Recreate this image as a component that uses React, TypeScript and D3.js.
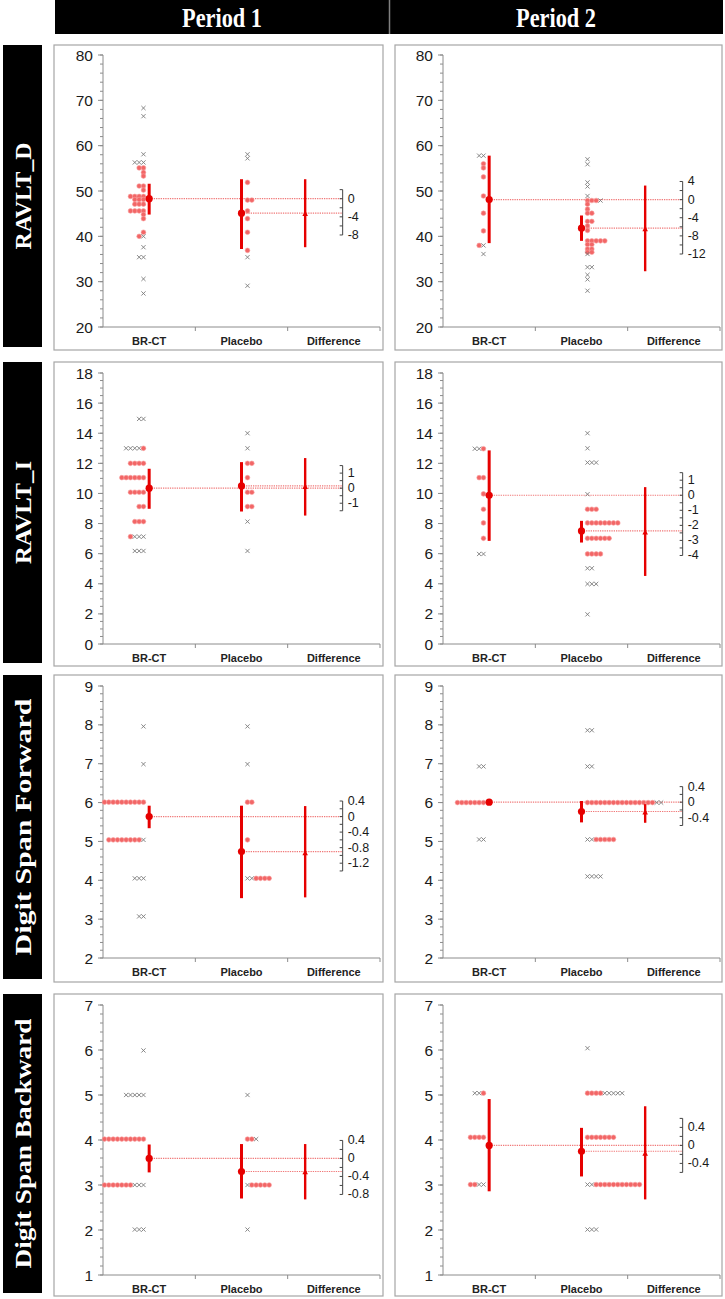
import React from "react";
import * as d3 from "d3";

const periods = ["Period 1", "Period 2"];
const measures = ["RAVLT_D", "RAVLT_I", "Digit Span Forward", "Digit Span Backward"];
const categories = ["BR-CT", "Placebo", "Difference"];

const yDomains: [number, number][] = [[20, 80], [0, 18], [2, 9], [1, 7]];
const yMajorStep = [10, 2, 1, 1];
const yMinorStep = [2, 0.5, 0.2, 0.2];

type Row = [number, string];
// individual values; "o" = filled dot, "x" = cross; characters left to right
const brctPoints: Row[][] = [
  [[68.3, "x"], [66.5, "x"], [58.1, "x"], [56.3, "xxx"], [55.1, "oo"], [54.1, "o"], [53.3, "o"], [51.1, "oo"], [50.2, "o"], [48.8, "oooo"], [48.1, "ooo"], [47.1, "ooo"], [45.6, "oooo"], [44.8, "o"], [43.9, "o"], [40.9, "o"], [40.0, "ox"], [37.6, "x"], [35.4, "xx"], [30.6, "x"], [27.4, "x"]],
  [[57.8, "xx"], [56.0, "o"], [55.1, "o"], [53.1, "o"], [48.9, "o"], [45.1, "o"], [41.2, "o"], [38.0, "ox"], [36.1, "x"]],
  [[14.95, "xx"], [13.0, "xxxxo"], [12.0, "oooo"], [11.05, "oooooo"], [10.08, "oooo"], [9.13, "oo"], [8.13, "ooo"], [7.13, "oxxx"], [6.18, "xxx"]],
  [[12.97, "xxo"], [11.05, "oo"], [9.97, "o"], [8.95, "o"], [8.04, "o"], [7.02, "o"], [5.98, "xx"]],
  [[7.96, "x"], [6.99, "x"], [6.01, "oooooooooo"], [5.04, "oooooooox"], [4.05, "xxx"], [3.07, "xx"]],
  [[6.93, "xx"], [6.0, "ooooooo"], [5.05, "xx"]],
  [[5.99, "x"], [5.0, "xxxxx"], [4.02, "oooooooooo"], [3.0, "oooooooxxx"], [2.01, "xxx"]],
  [[5.04, "xxo"], [4.06, "oooo"], [3.01, "ooxx"]],
];
const placeboPoints: Row[][] = [
  [[58.1, "x"], [57.2, "x"], [51.9, "o"], [48.0, "oo"], [45.6, "o"], [43.9, "o"], [40.9, "o"], [36.9, "o"], [35.4, "x"], [29.1, "x"]],
  [[57.0, "x"], [55.9, "x"], [51.9, "x"], [51.0, "x"], [48.9, "x"], [47.9, "ooox"], [47.1, "o"], [46.0, "o"], [45.1, "oo"], [43.3, "oo"], [42.3, "o"], [41.3, "o"], [39.0, "ooooo"], [38.2, "oo"], [37.2, "oo"], [36.5, "oo"], [36.1, "x"], [33.2, "xx"], [31.5, "x"], [30.5, "x"], [28.0, "x"]],
  [[14.0, "x"], [13.0, "x"], [12.0, "oo"], [11.05, "o"], [10.08, "oo"], [9.13, "oo"], [8.13, "x"], [6.18, "x"]],
  [[14.0, "x"], [13.0, "x"], [12.05, "xxx"], [9.95, "x"], [8.95, "ooo"], [8.04, "oooooooo"], [7.02, "oooooo"], [5.98, "oooo"], [5.03, "xx"], [3.99, "xxx"], [1.97, "x"]],
  [[7.96, "x"], [6.99, "x"], [6.01, "oo"], [5.04, "o"], [4.05, "xxoooo"]],
  [[7.86, "xx"], [6.93, "xx"], [6.0, "ooooooooooooooooxx"], [5.05, "xxooooo"], [4.1, "xxxx"]],
  [[5.0, "x"], [4.02, "oox"], [3.0, "xooooo"], [2.01, "x"]],
  [[6.04, "x"], [5.04, "ooooxxxxx"], [4.06, "ooooooo"], [3.01, "xxooooooooooo"], [2.01, "xxx"]],
];
// [mean, lower, upper]
const brctStats: [number, number, number][] = [
  [48.3, 44.8, 51.6], [48.1, 38.5, 57.8], [10.35, 8.98, 11.64], [9.88, 6.85, 12.86],
  [5.64, 5.34, 5.92], [6.01, 6.01, 6.01], [3.59, 3.28, 3.9], [3.88, 2.86, 4.91],
];
const placeboStats: [number, number, number][] = [
  [45.1, 37.2, 52.6], [41.8, 39.0, 44.6], [10.5, 8.8, 12.08], [7.51, 6.74, 8.18],
  [4.74, 3.54, 5.92], [5.77, 5.49, 6.04], [3.3, 2.7, 3.91], [3.75, 3.19, 4.27],
];
// difference (Placebo - BR-CT): [mean, lower, upper]
const diffStats: [number, number, number][] = [
  [-3.3, -10.7, 4.3], [-6.5, -15.8, 3.1], [0.1, -1.82, 2.0], [-2.46, -5.36, 0.54],
  [-0.94, -2.08, 0.27], [-0.26, -0.53, -0.05], [-0.3, -0.91, 0.32], [-0.18, -1.2, 0.87],
];
// difference axis: [min, max, label step, tick step]
const diffAxes: [number, number, number, number][] = [
  [-8, 2, 4, 2], [-12, 4, 4, 2], [-1.5, 1.5, 1, 0.5], [-4, 1.5, 1, 0.5],
  [-1.4, 0.4, 0.4, 0.2], [-0.6, 0.4, 0.4, 0.2], [-0.8, 0.4, 0.4, 0.2], [-0.6, 0.6, 0.4, 0.2],
];

// layout
const W = 725, H = 1299;
const panelLeft = [54, 395];
const panelRight = [383, 722];
const axisLeft = [103, 443];
const plotWidth = 277;
const panelTop = [45, 362, 675, 994];
const panelBottom = [350, 666, 982, 1296];
const plotTop = [55, 373, 686, 1005];
const plotBottom = [327, 644, 958, 1275];
const rowLabelLength = [107, 103, 257, 250];

const SANS = "Liberation Sans, Arial, Helvetica, sans-serif";
const SERIF = "Liberation Serif, 'Times New Roman', serif";
const RED = "#e60000";
const DOT = "#f26666";
const DOTTED = "#f07878";

function steps(lo: number, hi: number, st: number): number[] {
  const out: number[] = [];
  const n = Math.round((hi - lo) / st);
  for (let k = 0; k <= n; k++) out.push(+(lo + k * st).toFixed(4));
  return out;
}
function multiplesIn(lo: number, hi: number, st: number): number[] {
  const out: number[] = [];
  const a = Math.ceil(lo / st - 1e-6), b = Math.floor(hi / st + 1e-6);
  for (let k = a; k <= b; k++) out.push(+(k * st).toFixed(4));
  return out;
}
const fmt = (v: number) => (Math.abs(v) < 1e-9 ? "0" : String(+v.toFixed(2)));

function Marks({ rows, anchor, dir, y }: { rows: Row[]; anchor: number; dir: number; y: d3.ScaleLinear<number, number> }) {
  const sp = 4.33;
  const els: React.ReactNode[] = [];
  rows.forEach(([v, s], ri) => {
    const n = s.length;
    for (let k = 0; k < n; k++) {
      const px = dir < 0 ? anchor - (n - 1 - k) * sp : anchor + k * sp;
      const py = y(v);
      if (s[k] === "o") {
        els.push(<circle key={`${ri}-${k}`} cx={px} cy={py} r={2.35} fill={DOT} stroke="#f8a0a0" strokeWidth={0.6} />);
      } else {
        const d = 2.1;
        els.push(
          <path key={`${ri}-${k}`} d={`M${px - d},${py - d}L${px + d},${py + d}M${px - d},${py + d}L${px + d},${py - d}`} stroke="#7a7a7a" strokeWidth={0.9} fill="none" />
        );
      }
    }
  });
  return <g>{els}</g>;
}

function Panel({ r, c }: { r: number; c: number }) {
  const i = r * 2 + c;
  const y = d3.scaleLinear().domain(yDomains[r]).range([plotBottom[r], plotTop[r]]);
  const x = d3.scaleBand<string>().domain(categories).range([axisLeft[c], axisLeft[c] + plotWidth]);
  const bw = x.bandwidth();
  const cB = (x("BR-CT") as number) + bw / 2;
  const cP = (x("Placebo") as number) + bw / 2;
  const xDiff = (x("Difference") as number) + 17.5;
  const xDAxis = (x("Difference") as number) + 55;
  const [m1, l1, u1] = brctStats[i];
  const [m2, l2, u2] = placeboStats[i];
  const [dm, dl, du] = diffStats[i];
  const [amin, amax, alab, atick] = diffAxes[i];
  const x0 = axisLeft[c];
  const yb = plotBottom[r];
  const major = steps(yDomains[r][0], yDomains[r][1], yMajorStep[r]);
  const minor = steps(yDomains[r][0], yDomains[r][1], yMinorStep[r]);
  const tri = (cx: number, cy: number, s: number) => `M${cx},${cy - s}L${cx + s},${cy + s * 0.8}L${cx - s},${cy + s * 0.8}Z`;

  return (
    <g>
      <rect x={panelLeft[c]} y={panelTop[r]} width={panelRight[c] - panelLeft[c]} height={panelBottom[r] - panelTop[r]} fill="#fff" stroke="#a6a6a6" strokeWidth={1.2} />
      {/* y axis */}
      <line x1={x0} x2={x0} y1={plotTop[r]} y2={yb} stroke="#8c8c8c" strokeWidth={1} />
      {minor.map((v) => (
        <line key={"mi" + v} x1={x0 - 3} x2={x0} y1={y(v)} y2={y(v)} stroke="#8c8c8c" strokeWidth={1} />
      ))}
      {major.map((v) => (
        <g key={"ma" + v}>
          <line x1={x0 - 5} x2={x0} y1={y(v)} y2={y(v)} stroke="#8c8c8c" strokeWidth={1} />
          <text x={x0 - 10} y={y(v)} textAnchor="end" dominantBaseline="central" fontFamily={SANS} fontSize={15.5} fill="#1a1a1a">
            {fmt(v)}
          </text>
        </g>
      ))}
      {/* x axis */}
      <line x1={x0} x2={x0 + plotWidth} y1={yb} y2={yb} stroke="#8c8c8c" strokeWidth={1} />
      {[1, 2, 3].map((k) => (
        <line key={"xt" + k} x1={x0 + k * bw} x2={x0 + k * bw} y1={yb} y2={yb + 4} stroke="#8c8c8c" strokeWidth={1} />
      ))}
      {categories.map((cat) => (
        <text key={cat} x={(x(cat) as number) + bw / 2} y={yb + 14} textAnchor="middle" dominantBaseline="central" fontFamily={SANS} fontWeight="bold" fontSize={11} fill="#222">
          {cat}
        </text>
      ))}
      {/* reference dotted lines */}
      <line x1={cB} x2={xDAxis} y1={y(m1)} y2={y(m1)} stroke={DOTTED} strokeWidth={1.2} strokeDasharray="1.3 1" />
      <line x1={cP} x2={xDAxis} y1={y(m2)} y2={y(m2)} stroke={DOTTED} strokeWidth={1.2} strokeDasharray="1.3 1" />
      {/* individual points */}
      <Marks rows={brctPoints[i]} anchor={cB - 5.7} dir={-1} y={y} />
      <Marks rows={placeboPoints[i]} anchor={cP + 6} dir={1} y={y} />
      {/* group means with CI */}
      <line x1={cB} x2={cB} y1={y(l1)} y2={y(u1)} stroke={RED} strokeWidth={3} />
      <circle cx={cB} cy={y(m1)} r={3.6} fill={RED} />
      <line x1={cP} x2={cP} y1={y(l2)} y2={y(u2)} stroke={RED} strokeWidth={3} />
      <circle cx={cP} cy={y(m2)} r={3.6} fill={RED} />
      {/* difference */}
      <line x1={xDiff} x2={xDiff} y1={y(m1 + dl)} y2={y(m1 + du)} stroke={RED} strokeWidth={2.4} />
      <path d={tri(xDiff, y(m1 + dm), 2.8)} fill={RED} />
      {/* difference axis */}
      <line x1={xDAxis} x2={xDAxis} y1={y(m1 + amax)} y2={y(m1 + amin)} stroke="#444" strokeWidth={1} />
      {steps(amin, amax, atick).map((v) => (
        <line key={"dt" + v} x1={xDAxis - 3} x2={xDAxis} y1={y(m1 + v)} y2={y(m1 + v)} stroke="#444" strokeWidth={1} />
      ))}
      {multiplesIn(amin, amax, alab).map((v) => (
        <text key={"dl" + v} x={xDAxis + 5} y={y(m1 + v)} dominantBaseline="central" fontFamily={SANS} fontSize={12.5} fill="#1a1a1a">
          {fmt(v)}
        </text>
      ))}
    </g>
  );
}

export default function App() {
  return (
    <svg width={W} height={H} viewBox={`0 0 ${W} ${H}`} style={{ position: "absolute", left: 0, top: 0, background: "#fff" }}>
      <rect x={0} y={0} width={W} height={H} fill="#fff" />
      {/* header */}
      <rect x={55} y={0} width={668} height={34} fill="#000" />
      <line x1={389.5} x2={389.5} y1={0} y2={34} stroke="#808080" strokeWidth={1.5} />
      {periods.map((p, c) => (
        <text key={p} x={c === 0 ? 222 : 556} y={18} textAnchor="middle" dominantBaseline="central" fontFamily={SERIF} fontWeight="bold" fontSize={27} fill="#fff" textLength={80} lengthAdjust="spacingAndGlyphs">
          {p}
        </text>
      ))}
      {/* row labels */}
      {measures.map((m, r) => {
        const cy = (panelTop[r] + panelBottom[r] - 3) / 2;
        return (
          <g key={m}>
            <rect x={3} y={panelTop[r]} width={39} height={panelBottom[r] - 3 - panelTop[r]} fill="#000" />
            <text transform={`translate(23,${cy}) rotate(-90)`} textAnchor="middle" dominantBaseline="central" fontFamily={SERIF} fontWeight="bold" fontSize={23} fill="#fff" textLength={rowLabelLength[r]} lengthAdjust="spacingAndGlyphs">
              {m}
            </text>
          </g>
        );
      })}
      {measures.map((m, r) => periods.map((p, c) => <Panel key={m + p} r={r} c={c} />))}
    </svg>
  );
}
